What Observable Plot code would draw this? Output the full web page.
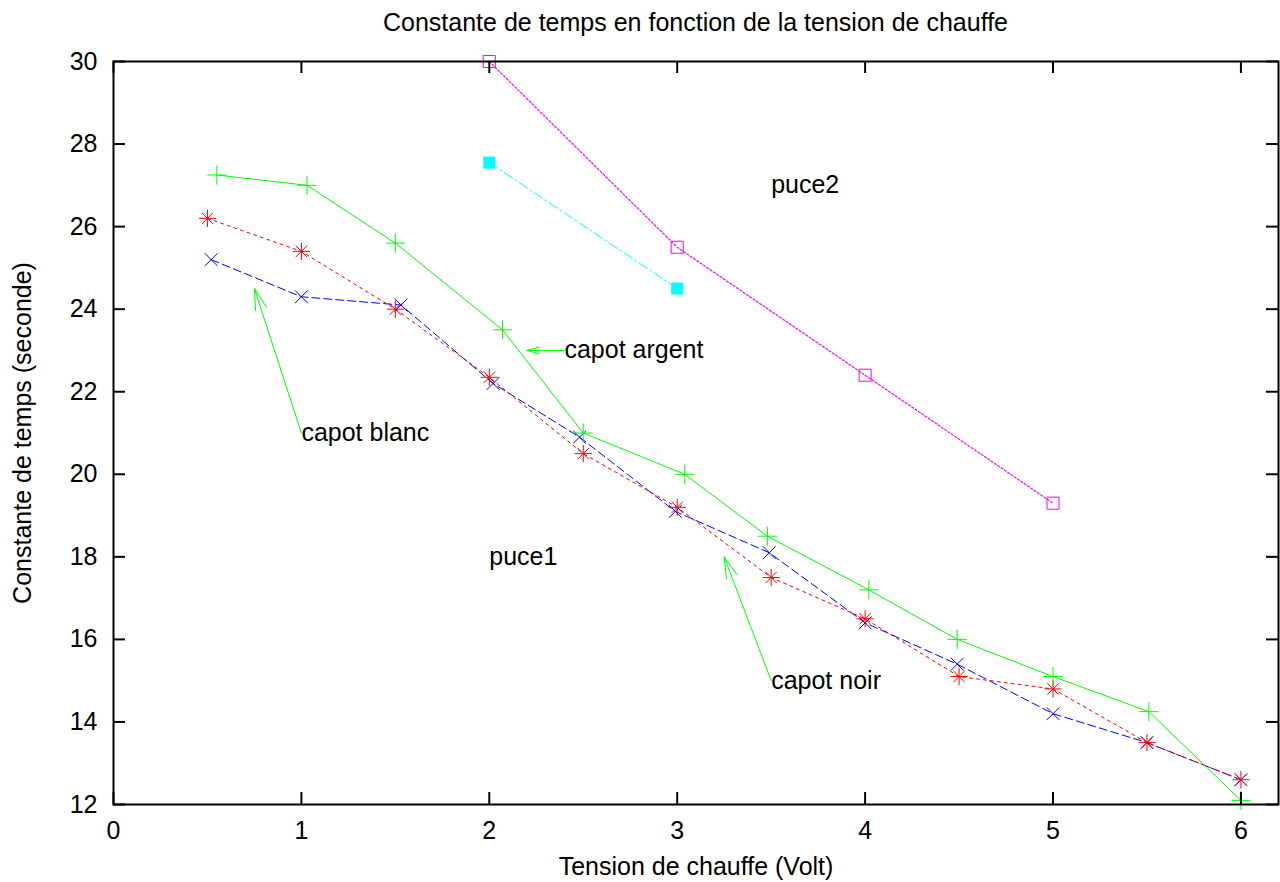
<!DOCTYPE html>
<html>
<head>
<meta charset="utf-8">
<script src="https://cdn.jsdelivr.net/npm/d3@7"></script>
<script src="https://cdn.jsdelivr.net/npm/@observablehq/plot@0.6"></script>
<style>
  body { margin: 0; background: #fff; font-family: "Liberation Sans", Arial, sans-serif; }
  #title { height: 44px; line-height: 44px; font-size: 25px; text-align: center; margin-left: 113px; width: 1165px; color: #000; white-space: nowrap; }
</style>
</head>
<body>
<div id="title">Constante de temps en fonction de la tension de chauffe</div>
<div id="chart"></div>
<script>
// Tick values
const xTicks = [0, 1, 2, 3, 4, 5, 6];
const yTicks = [12, 14, 16, 18, 20, 22, 24, 26, 28, 30];

// puce1 — capot blanc (blue, x)
const blancV = [0.52, 1.0, 1.53, 2.02, 2.48, 2.99, 3.49, 4.0, 4.49, 5.0, 5.5, 6.0];
const blancT = [25.2, 24.3, 24.1, 22.2, 20.9, 19.1, 18.1, 16.4, 15.4, 14.2, 13.5, 12.6];
// puce1 — capot noir (red, *)
const noirV = [0.5, 1.0, 1.5, 2.0, 2.5, 3.0, 3.5, 4.0, 4.5, 5.0, 5.5, 6.0];
const noirT = [26.2, 25.4, 24.0, 22.35, 20.5, 19.2, 17.5, 16.5, 15.1, 14.8, 13.5, 12.6];
// puce1 — capot argent (green, +)
const argentV = [0.55, 1.03, 1.5, 2.07, 2.5, 3.04, 3.48, 4.02, 4.49, 5.0, 5.51, 6.0];
const argentT = [27.25, 27.0, 25.6, 23.5, 21.0, 20.0, 18.5, 17.2, 16.0, 15.1, 14.25, 12.1];
// puce2 (magenta, open square)
const puce2aV = [2, 3, 4, 5];
const puce2aT = [30, 25.5, 22.4, 19.3];
// puce2 (cyan, filled square)
const puce2bV = [2, 3];
const puce2bT = [27.55, 24.5];

// Labels
const labelText = ["puce2", "puce1", "capot argent", "capot blanc", "capot noir"];
const labelV = [3.5, 2.0, 2.4, 1.0, 3.5];
const labelT = [27.0, 18.0, 23.0, 21.0, 15.0];

// Arrows
const arrowFromV = [2.4, 1.0, 3.5];
const arrowFromT = [23.0, 21.0, 15.0];
const arrowToV = [2.2, 0.75, 3.25];
const arrowToT = [23.0, 24.5, 18.0];

const pts = (V, T) => V.map((v, i) => ({v, t: T[i]}));
const blanc = pts(blancV, blancT);
const noir = pts(noirV, noirT);
const argent = pts(argentV, argentT);
const puce2a = pts(puce2aV, puce2aT);
const puce2b = pts(puce2bV, puce2bT);
const labels = labelText.map((s, i) => ({s, v: labelV[i], t: labelT[i]}));
const arrows = arrowFromV.map((v, i) => ({x1: v, y1: arrowFromT[i], x2: arrowToV[i], y2: arrowToT[i]}));

const W = 1280, H = 838;
const mL = 113, mR = 2, mT = 17, mB = 78;
const pw = W - mL - mR, ph = H - mT - mB;
const tk = 12;
const FONT = 25;

const chart = Plot.plot({
  width: W,
  height: H,
  marginLeft: mL,
  marginRight: mR,
  marginTop: mT,
  marginBottom: mB,
  style: {fontFamily: "'Liberation Sans', Arial, sans-serif", fontSize: FONT + "px", background: "#fff", color: "#000"},
  x: {domain: [0, 6.2], ticks: xTicks, tickSize: 0, tickPadding: 17, label: null, tickFormat: d => String(d)},
  y: {domain: [12, 30], ticks: yTicks, tickSize: 0, tickPadding: 16, label: null, tickFormat: d => String(d)},
  marks: [
    // series lines
    Plot.line(blanc, {x: "v", y: "t", stroke: "#0000ff", strokeWidth: 1, strokeDasharray: "8,4"}),
    Plot.dot(blanc, {x: "v", y: "t", symbol: "times", r: 5.9, stroke: "#0000ff", strokeWidth: 1}),
    Plot.line(noir, {x: "v", y: "t", stroke: "#ff0000", strokeWidth: 1, strokeDasharray: "3,4"}),
    Plot.dot(noir, {x: "v", y: "t", symbol: "plus", r: 5.6, stroke: "#ff0000", strokeWidth: 1}),
    Plot.dot(noir, {x: "v", y: "t", symbol: "times", r: 5.2, stroke: "#ff0000", strokeWidth: 1}),
    Plot.line(argent, {x: "v", y: "t", stroke: "#00ff00", strokeWidth: 1}),
    Plot.dot(argent, {x: "v", y: "t", symbol: "plus", r: 6.2, stroke: "#00ff00", strokeWidth: 1}),
    Plot.line(puce2a, {x: "v", y: "t", stroke: "#ff00ff", strokeWidth: 1.2, strokeDasharray: "2,2"}),
    Plot.dot(puce2a, {x: "v", y: "t", symbol: "square", r: 6.8, fill: "none", stroke: "#ff00ff", strokeWidth: 1}),
    Plot.line(puce2b, {x: "v", y: "t", stroke: "#00ffff", strokeWidth: 1, strokeDasharray: "10,3,2,3"}),
    Plot.dot(puce2b, {x: "v", y: "t", symbol: "square", r: 6.8, fill: "#00ffff", stroke: "none"}),
    // annotations
    Plot.arrow(arrows, {x1: "x1", y1: "y1", x2: "x2", y2: "y2", stroke: "#00ff00", strokeWidth: 1, headAngle: 30, headLength: 33}),
    Plot.text(labels, {x: "v", y: "t", text: "s", textAnchor: "start", fontSize: FONT, fill: "#000"}),
    // inward ticks on all sides
    Plot.tickX(xTicks, {x: d => d, stroke: "#000", strokeWidth: 2, insetTop: ph - tk}),
    Plot.tickX(xTicks, {x: d => d, stroke: "#000", strokeWidth: 2, insetBottom: ph - tk}),
    Plot.tickY(yTicks, {y: d => d, stroke: "#000", strokeWidth: 2, insetRight: pw - tk}),
    Plot.tickY(yTicks, {y: d => d, stroke: "#000", strokeWidth: 2, insetLeft: pw - tk}),
    Plot.frame({stroke: "#000", strokeWidth: 2}),
    // axis titles
    Plot.text(["Tension de chauffe (Volt)"], {frameAnchor: "bottom", dy: 62, lineAnchor: "middle", textAnchor: "middle", fontSize: FONT, fill: "#000"}),
    Plot.text(["Constante de temps (seconde)"], {frameAnchor: "left", dx: -91, rotate: -90, lineAnchor: "middle", textAnchor: "middle", fontSize: FONT, fill: "#000"})
  ]
});
document.getElementById("chart").appendChild(chart);
</script>
</body>
</html>
